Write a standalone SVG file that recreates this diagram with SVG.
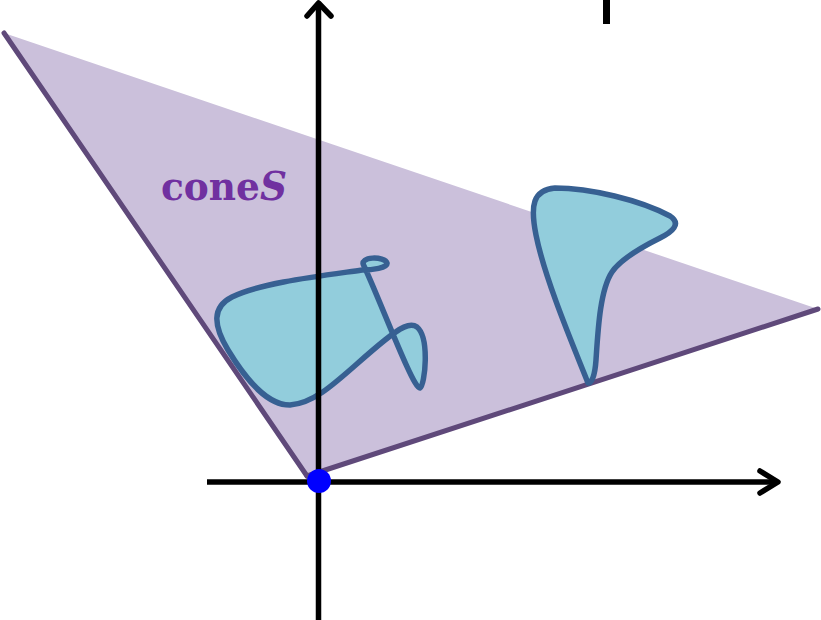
<svg xmlns="http://www.w3.org/2000/svg" width="821" height="620" viewBox="0 0 821 620">
<style>
.edge{stroke:#5F497A;stroke-width:5;fill:none;stroke-linecap:round}
.blob{fill:#92CDDC;stroke:#376092;stroke-width:5.5;stroke-linejoin:round}
.axis{stroke:#000;stroke-width:5.5;fill:none}
.head{stroke:#000;stroke-width:5.5;fill:none;stroke-linecap:round;stroke-linejoin:round}
</style>
<g id="cone">
<polygon points="4,33 818,309 307,476" fill="#CBC0DB"/>
<line class="edge" x1="4" y1="33" x2="307" y2="476"/>
<line class="edge" x1="307" y1="476" x2="818" y2="309"/>
</g>
<g id="blob1">
<path class="blob" d="M362,270 C320,276 260,283 232,297 C212,307 213,325 228,350 C248,383 268,405 290,405 C320,403 345,372 385,340 C400,328 410,322 417,327 C430,338 425,385 420,388 C414,391 380,300 364,266 C358,256 385,256 387,263 C388,268 372,270 362,270 Z"/>
</g>
<g id="blob2">
<path class="blob" d="M588,383 C575,350 545,280 536,235 C530,205 533,190 555,188 C590,188 640,200 670,216 C682,224 672,232 660,238 C640,248 620,260 612,272 C600,290 598,330 596,360 C595,375 592,383 588,383 Z"/>
</g>
<g id="connectors">
<line class="axis" x1="318.5" y1="620" x2="318.5" y2="3"/>
<polyline class="head" points="307,16 318.5,3 331,16"/>
<line class="axis" x1="207" y1="482" x2="778" y2="482"/>
<polyline class="head" points="760,471 778,482 760,493"/>
</g>
<rect id="bar" x="603" y="0" width="7" height="24" fill="#000"/>
<g id="origin"><circle cx="319" cy="481" r="12" fill="#0000FF"/></g>
<g id="label">
<text x="161" y="200" font-family="DejaVu Serif, serif" font-weight="bold" font-size="39" fill="#7030A0" textLength="126" lengthAdjust="spacingAndGlyphs">cone<tspan font-style="italic">S</tspan></text>
</g>
</svg>
